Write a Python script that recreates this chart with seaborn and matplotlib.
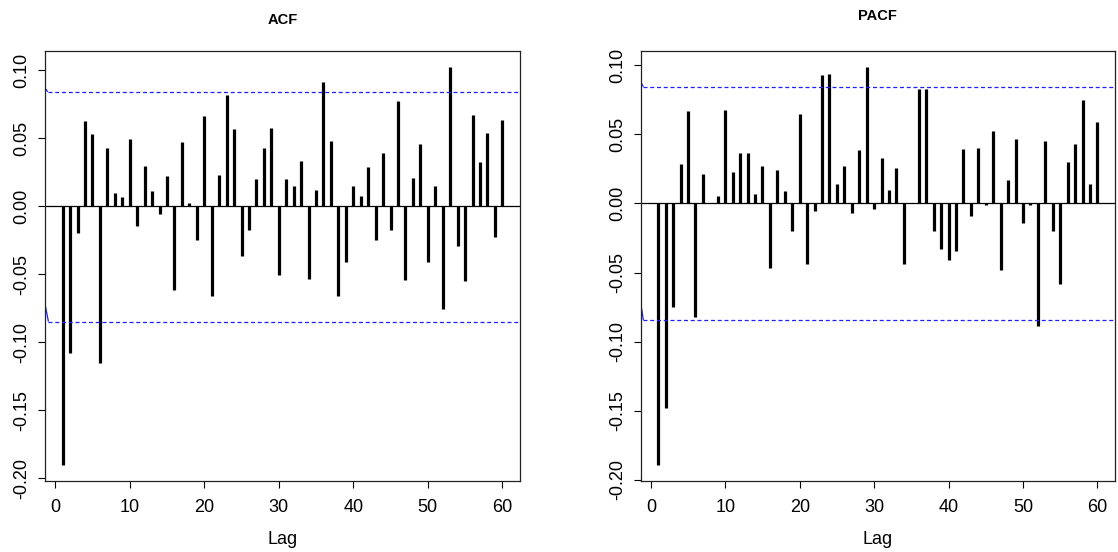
import numpy as np
import pandas as pd
import matplotlib
matplotlib.use("Agg")
import matplotlib.pyplot as plt
import seaborn as sns

# ---------------- data ----------------
lags = list(range(1, 61))

acf_values = [
    -0.190, -0.1076, -0.0198, 0.0629, 0.0531, -0.1152, 0.0426, 0.0100, 0.0064, 0.0494,
    -0.0149, 0.0298, 0.0108, -0.0061, 0.0223, -0.0619, 0.0470, 0.0024, -0.0252, 0.0665,
    -0.0663, 0.0227, 0.0819, 0.0570, -0.0369, -0.0174, 0.0198, 0.0426, 0.0577, -0.0504,
    0.0203, 0.0147, 0.0330, -0.0533, 0.0120, 0.0915, 0.0482, -0.0663, -0.0411, 0.0147,
    0.0071, 0.0286, -0.0252, 0.0387, -0.0174, 0.0775, -0.0541, 0.0205, 0.0457, -0.0411,
    0.0147, -0.0753, 0.1025, -0.0296, -0.0550, 0.0673, 0.0325, 0.0541, -0.0227, 0.0634,
]

pacf_values = [
    -0.189, -0.148, -0.0748, 0.0286, 0.0666, -0.0825, 0.0209, 0.0000, 0.0050, 0.0676,
    0.0224, 0.0368, 0.0361, 0.0067, 0.0274, -0.0467, 0.0238, 0.0087, -0.0202, 0.0650,
    -0.0435, -0.0055, 0.0931, 0.0936, 0.0142, 0.0274, -0.0067, 0.0387, 0.0989, -0.0043,
    0.0325, 0.0094, 0.0257, -0.0435, 0.0000, 0.0825, 0.0825, -0.0200, -0.0332, -0.0411,
    -0.0344, 0.0395, -0.0091, 0.0402, -0.0012, 0.0520, -0.0479, 0.0171, 0.0464, -0.0140,
    -0.0012, -0.0888, 0.0450, -0.0200, -0.0580, 0.0300, 0.0431, 0.0748, 0.0142, 0.0589,
]

# confidence-band polylines (lag, value): steep start then flat
acf_ci_upper_x = [-1.5, -1.0, 63.0]
acf_ci_upper_y = [0.0880, 0.0840, 0.0840]
acf_ci_lower_x = [-1.5, -0.9, 63.0]
acf_ci_lower_y = [-0.0680, -0.0848, -0.0848]

pacf_ci_upper_x = [-1.5, -1.0, 63.0]
pacf_ci_upper_y = [0.0890, 0.0844, 0.0844]
pacf_ci_lower_x = [-1.5, -1.0, 63.0]
pacf_ci_lower_y = [-0.0670, -0.0844, -0.0844]

x_ticks = [0, 10, 20, 30, 40, 50, 60]
y_ticks = [-0.20, -0.15, -0.10, -0.05, 0.00, 0.05, 0.10]
titles = ["ACF", "PACF"]
x_label = "Lag"

# ---------------- style ----------------
sns.set_theme(style="white")
plt.rcParams["font.family"] = ["Liberation Sans", "DejaVu Sans"]
plt.rcParams["axes.unicode_minus"] = False

fig = plt.figure(figsize=(11.18, 5.52), dpi=100)
W, H = 1118, 552
ax1 = fig.add_axes([45 / W, 1 - 480.7 / H, 475 / W, 430 / H])
ax2 = fig.add_axes([640.7 / W, 1 - 480.7 / H, 474.3 / W, 430 / H])

panels = [
    (ax1, acf_values, (acf_ci_upper_x, acf_ci_upper_y, acf_ci_lower_x, acf_ci_lower_y), 26.5),
    (ax2, pacf_values, (pacf_ci_upper_x, pacf_ci_upper_y, pacf_ci_lower_x, pacf_ci_lower_y), 31.0),
]

blue = "#1f1fff"
for (ax, vals, ci, tpad_px), title in zip(panels, titles):
    df = pd.DataFrame({"lag": lags, "value": vals})
    ax.vlines(df["lag"], 0, df["value"], color="black", lw=2.3, capstyle="butt")
    ax.axhline(0, color="black", lw=0.9)

    ux, uy, lx, ly = ci
    for xs, ys in [(ux, uy), (lx, ly)]:
        ax.plot(xs[:2], ys[:2], color=blue, lw=0.9, solid_capstyle="butt")
        ax.plot(xs[1:], ys[1:], color=blue, lw=0.9, linestyle=(0, (3.2, 2.2)))

    vmin = min(vals + [ci[3][1]])
    vmax = max(vals + [ci[1][1]])
    rng = vmax - vmin
    ax.set_ylim(vmin - 0.04 * rng, vmax + 0.04 * rng)
    ax.set_xlim(1 - 0.04 * 59, 60 + 0.04 * 59)

    ax.set_xticks(x_ticks)
    ax.set_xticklabels([str(t) for t in x_ticks])
    ax.set_yticks(y_ticks)
    ax.set_yticklabels([f"{t:.2f}" for t in y_ticks], rotation=90, va="center")
    ax.tick_params(axis="both", which="major", direction="out", length=5.2, width=0.8,
                   color="black", labelsize=13, labelcolor="black",
                   bottom=True, left=True)
    ax.tick_params(axis="x", pad=8)
    ax.tick_params(axis="y", pad=5.5)
    for s in ax.spines.values():
        s.set_color("#222222")
        s.set_linewidth(0.9)
    ax.set_xlabel(x_label, fontsize=13, labelpad=11, color="black")
    ax.set_title(title, fontsize=10.5, fontweight="bold", pad=tpad_px * 0.72, color="black")
    ax.grid(False)

fig.savefig("out.png", dpi=100)
